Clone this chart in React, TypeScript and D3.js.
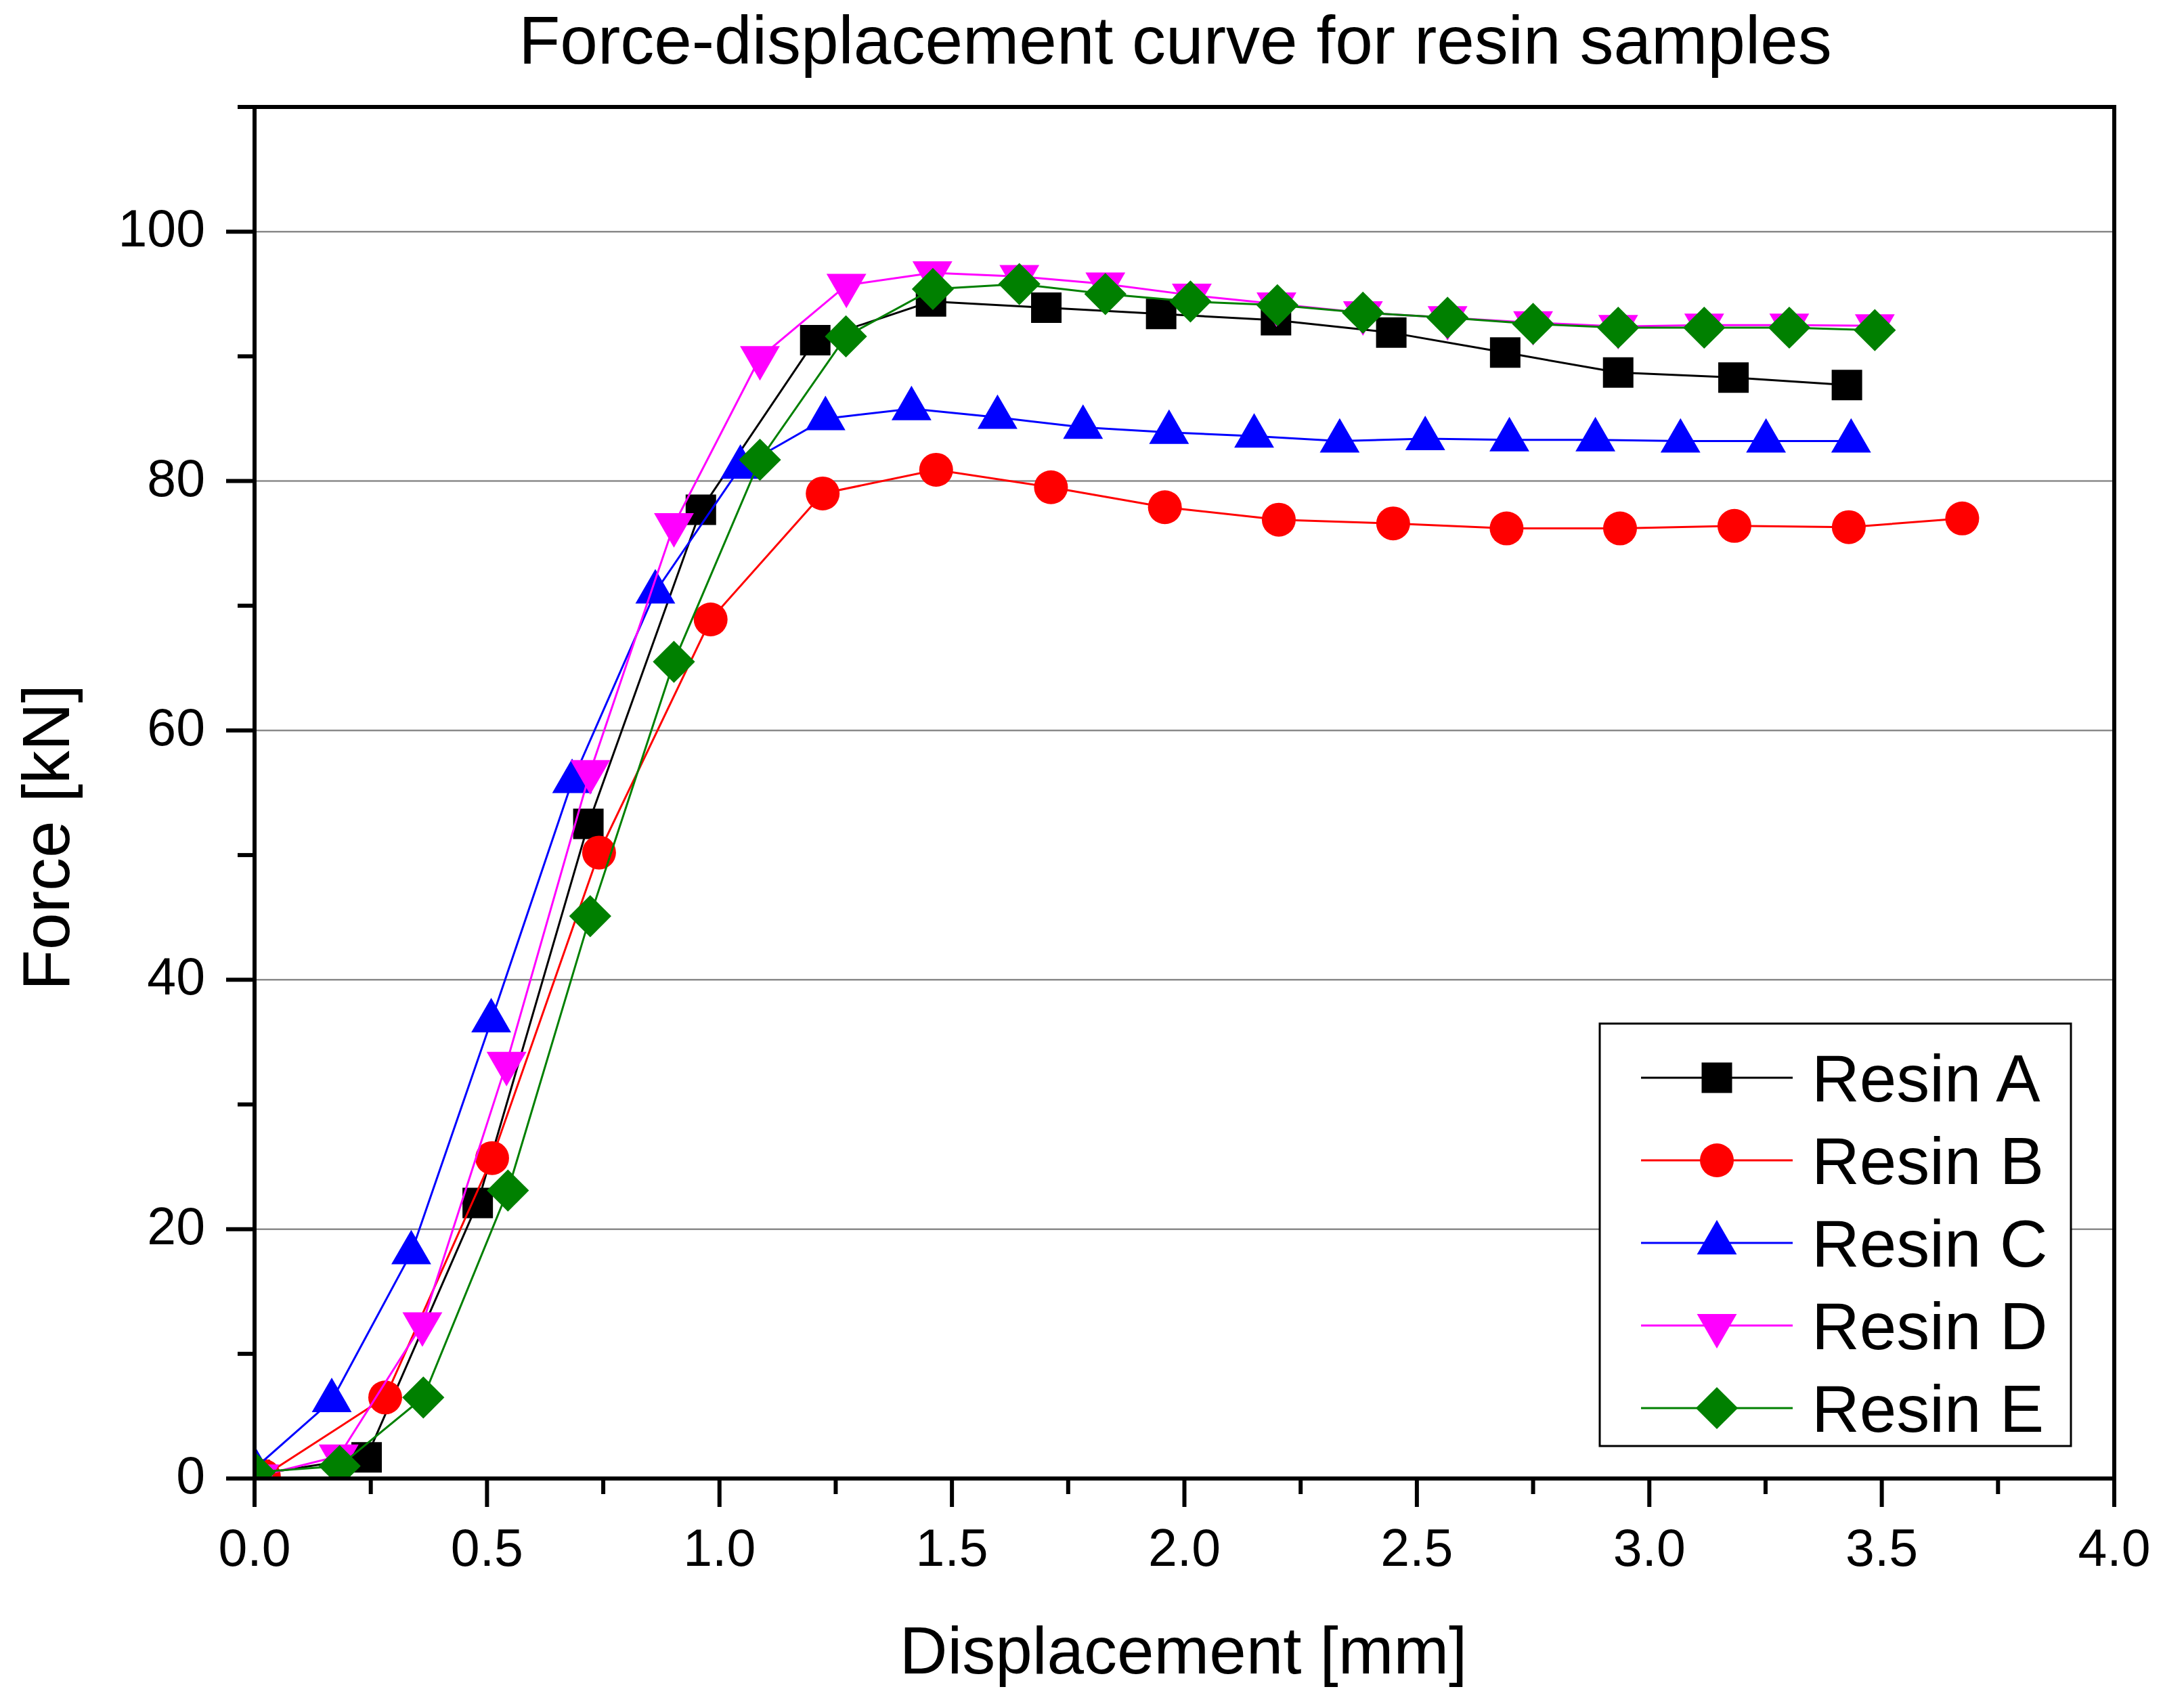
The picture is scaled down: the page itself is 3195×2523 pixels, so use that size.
import React from "react";
import * as d3 from "d3";

const W = 3195;
const H = 2523;

const titleText = "Force-displacement curve for resin samples";
const xLabel = "Displacement [mm]";
const yLabel = "Force [kN]";

const xMajorTicks = [0, 0.5, 1.0, 1.5, 2.0, 2.5, 3.0, 3.5, 4.0];
const xMinorTicks = [0.25, 0.75, 1.25, 1.75, 2.25, 2.75, 3.25, 3.75];
const yMajorTicks = [0, 20, 40, 60, 80, 100];
const yMinorTicks = [10, 30, 50, 70, 90, 110];
const gridValues = [20, 40, 60, 80, 100];

const seriesNames = ["Resin A", "Resin B", "Resin C", "Resin D", "Resin E"];
const seriesColors = ["#000000", "#FF0000", "#0000FF", "#FF00FF", "#008000"];
const seriesSymbols = ["square", "circle", "triangleUp", "triangleDown", "diamond"];

const resinAx = [0, 0.241, 0.48, 0.718, 0.96, 1.206, 1.455, 1.703, 1.95, 2.197, 2.445, 2.69, 2.933, 3.181, 3.425];
const resinAy = [0.3, 1.7, 22.1, 52.5, 77.7, 91.3, 94.4, 93.9, 93.4, 92.9, 91.9, 90.3, 88.7, 88.3, 87.7];

const resinBx = [0.02, 0.281, 0.511, 0.741, 0.981, 1.222, 1.466, 1.713, 1.958, 2.203, 2.449, 2.693, 2.937, 3.183, 3.429, 3.673];
const resinBy = [0.2, 6.5, 25.7, 50.2, 68.9, 79.0, 80.9, 79.5, 77.9, 76.9, 76.6, 76.2, 76.2, 76.4, 76.3, 77.0];

const resinCx = [0.0, 0.166, 0.337, 0.509, 0.683, 0.862, 1.045, 1.228, 1.413, 1.598, 1.782, 1.967, 2.15, 2.334, 2.518, 2.699, 2.884, 3.067, 3.251, 3.434];
const resinCy = [0.8, 6.25, 18.1, 36.7, 55.9, 71.1, 81.1, 85.0, 85.8, 85.1, 84.3, 83.9, 83.6, 83.2, 83.4, 83.3, 83.3, 83.2, 83.2, 83.2];

const resinDx = [0.01, 0.181, 0.361, 0.542, 0.722, 0.902, 1.087, 1.273, 1.458, 1.645, 1.83, 2.016, 2.198, 2.384, 2.566, 2.75, 2.933, 3.118, 3.301, 3.485];
const resinDy = [0.2, 1.8, 12.4, 33.3, 56.7, 76.5, 89.9, 95.7, 96.7, 96.4, 95.8, 94.9, 94.2, 93.5, 93.1, 92.7, 92.4, 92.5, 92.5, 92.45];

const resinEx = [0.0, 0.183, 0.363, 0.545, 0.722, 0.902, 1.087, 1.272, 1.459, 1.645, 1.83, 2.013, 2.2, 2.384, 2.566, 2.75, 2.933, 3.118, 3.301, 3.485];
const resinEy = [0.5, 1.0, 6.5, 23.1, 45.1, 65.5, 81.7, 91.6, 95.4, 95.8, 95.0, 94.4, 94.1, 93.5, 93.1, 92.6, 92.3, 92.3, 92.3, 92.1];

const seriesX = [resinAx, resinBx, resinCx, resinDx, resinEx];
const seriesY = [resinAy, resinBy, resinCy, resinDy, resinEy];

const FONT = "'Liberation Sans', Arial, sans-serif";

const left = 376;
const right = 3123;
const top = 158;
const bottom = 2184;

const x = d3.scaleLinear().domain([0, 4]).range([left, right]);
const y = d3.scaleLinear().domain([0, 110]).range([bottom, top]);

function symbolPath(kind: string): { d: string; rotate: number } {
  if (kind === "square") return { d: d3.symbol(d3.symbolSquare, 45 * 45)()!, rotate: 0 };
  if (kind === "circle") return { d: d3.symbol(d3.symbolCircle, Math.PI * 25 * 25)()!, rotate: 0 };
  if (kind === "triangleUp") return { d: d3.symbol(d3.symbolTriangle, 1500)()!, rotate: 0 };
  if (kind === "triangleDown") return { d: d3.symbol(d3.symbolTriangle, 1500)()!, rotate: 180 };
  return { d: d3.symbol(d3.symbolSquare, 44 * 44)()!, rotate: 45 };
}

function Marker({ kind, cx, cy, color }: { kind: string; cx: number; cy: number; color: string }) {
  const s = symbolPath(kind);
  return (
    <path
      d={s.d}
      fill={color}
      transform={`translate(${cx},${cy}) rotate(${s.rotate})`}
    />
  );
}

export default function App() {
  const line = d3
    .line<[number, number]>()
    .x((d) => x(d[0]))
    .y((d) => y(d[1]));

  return (
    <svg
      width={W}
      height={H}
      viewBox={`0 0 ${W} ${H}`}
      style={{ position: "absolute", left: 0, top: 0, background: "#fff" }}
      fontFamily={FONT}
    >
      <rect x={0} y={0} width={W} height={H} fill="#fff" />
      <defs>
        <clipPath id="plotClip">
          <rect x={left} y={top} width={right - left} height={bottom - top} />
        </clipPath>
      </defs>

      {/* title */}
      <text x={1736} y={94} fontSize={100} textAnchor="middle" fill="#000">
        {titleText}
      </text>

      {/* gridlines */}
      {gridValues.map((v) => (
        <line key={"g" + v} x1={left} x2={right} y1={y(v)} y2={y(v)} stroke="#8a8a8a" strokeWidth={2.5} />
      ))}

      {/* series */}
      <g clipPath="url(#plotClip)">
        {seriesNames.map((name, i) => {
          const pts: [number, number][] = seriesX[i].map((xv, j) => [xv, seriesY[i][j]]);
          return (
            <g key={name}>
              <path d={line(pts)!} fill="none" stroke={seriesColors[i]} strokeWidth={3} />
              {pts.map((p, j) => (
                <Marker key={j} kind={seriesSymbols[i]} cx={x(p[0])} cy={y(p[1])} color={seriesColors[i]} />
              ))}
            </g>
          );
        })}
      </g>

      {/* frame */}
      <rect x={left} y={top} width={right - left} height={bottom - top} fill="none" stroke="#000" strokeWidth={6} />

      {/* x ticks */}
      {xMajorTicks.map((v) => (
        <g key={"xt" + v}>
          <line x1={x(v)} x2={x(v)} y1={bottom} y2={bottom + 42} stroke="#000" strokeWidth={6} />
          <text x={x(v)} y={2313} fontSize={77} textAnchor="middle" fill="#000">
            {d3.format(".1f")(v)}
          </text>
        </g>
      ))}
      {xMinorTicks.map((v) => (
        <line key={"xm" + v} x1={x(v)} x2={x(v)} y1={bottom} y2={bottom + 23} stroke="#000" strokeWidth={6} />
      ))}

      {/* y ticks */}
      {yMajorTicks.map((v) => (
        <g key={"yt" + v}>
          <line x1={left - 42} x2={left} y1={y(v)} y2={y(v)} stroke="#000" strokeWidth={6} />
          <text x={303} y={y(v) + 22} fontSize={77} textAnchor="end" fill="#000">
            {d3.format("d")(v)}
          </text>
        </g>
      ))}
      {yMinorTicks.map((v) => (
        <line key={"ym" + v} x1={left - 25} x2={left} y1={y(v)} y2={y(v)} stroke="#000" strokeWidth={6} />
      ))}

      {/* axis titles */}
      <text x={1748} y={2472} fontSize={98} textAnchor="middle" fill="#000">
        {xLabel}
      </text>
      <text
        transform={`translate(102,1237) rotate(-90)`}
        fontSize={98}
        textAnchor="middle"
        fill="#000"
      >
        {yLabel}
      </text>

      {/* legend */}
      <rect x={2363} y={1512} width={696} height={624} fill="#fff" stroke="#000" strokeWidth={3} />
      {seriesNames.map((name, i) => {
        const ry = 1592 + i * 122;
        return (
          <g key={"lg" + name}>
            <line x1={2424} x2={2648} y1={ry} y2={ry} stroke={seriesColors[i]} strokeWidth={3} />
            <Marker kind={seriesSymbols[i]} cx={2536} cy={ry} color={seriesColors[i]} />
            <text x={2676} y={ry + 35} fontSize={98} fill="#000">
              {name}
            </text>
          </g>
        );
      })}
    </svg>
  );
}
